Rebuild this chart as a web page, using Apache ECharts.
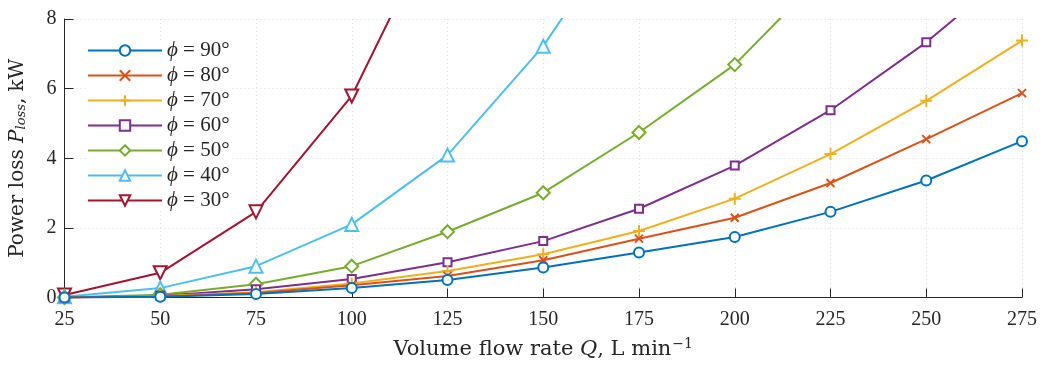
<!DOCTYPE html>
<html><head><meta charset="utf-8">
<script src="https://cdn.jsdelivr.net/npm/echarts@6/dist/echarts.min.js"></script>
<style>html,body{margin:0;padding:0;background:#fff}#c{width:1044px;height:365px}</style>
</head><body><div id="c"></div>
<script>
const categories = [25, 50, 75, 100, 125, 150, 175, 200, 225, 250, 275];
const xTicks = [25, 50, 75, 100, 125, 150, 175, 200, 225, 250, 275];
const yTicks = [0, 2, 4, 6, 8];
const phi90 = [0.0, 0.02, 0.10, 0.27, 0.50, 0.86, 1.29, 1.74, 2.46, 3.36, 4.49];
const phi80 = [0.0, 0.03, 0.13, 0.35, 0.62, 1.07, 1.69, 2.29, 3.29, 4.55, 5.87];
const phi70 = [0.0, 0.04, 0.15, 0.40, 0.76, 1.24, 1.91, 2.84, 4.12, 5.65, 7.38];
const phi60 = [0.0, 0.05, 0.24, 0.53, 1.01, 1.62, 2.55, 3.79, 5.38, 7.33, 9.62];
const phi50 = [0.0, 0.08, 0.38, 0.90, 1.89, 3.01, 4.74, 6.69, 9.49, null, null];
const phi40 = [0.02, 0.27, 0.90, 2.10, 4.09, 7.22, 11.3, null, null, null, null];
const phi30 = [0.07, 0.71, 2.46, 5.79, 11.4, null, null, null, null, null, null];
const labels = ['90°', '80°', '70°', '60°', '50°', '40°', '30°'];
const colors = ['#0072BD', '#D95319', '#EDB120', '#7E2F8E', '#77AC30', '#4DBEEE', '#A2142F'];

const FONT = 'Liberation Serif';
const TFONT = 'DejaVu Serif';
const seriesData = [phi90, phi80, phi70, phi60, phi50, phi40, phi30];
const symbols = [
  {s: 'emptyCircle', size: 10, rot: 0},
  {s: 'path://M0,0L10,10M10,0L0,10', size: 8, rot: 0},
  {s: 'path://M0,5L10,5M5,0L5,10', size: 12, rot: 0},
  {s: 'emptyRect', size: 8, rot: 0},
  {s: 'emptyDiamond', size: 13, rot: 0},
  {s: 'emptyTriangle', size: 13, rot: 0},
  {s: 'emptyTriangle', size: 13, rot: 180}
];

const series = seriesData.map((d, i) => ({
  name: 'phi' + labels[i],
  type: 'line',
  data: d.map((v, j) => [categories[j], v]),
  symbol: symbols[i].s,
  symbolSize: symbols[i].size,
  symbolRotate: symbols[i].rot,
  showAllSymbol: true,
  clip: true,
  lineStyle: {color: colors[i], width: 2},
  itemStyle: {color: colors[i], borderColor: colors[i], borderWidth: 2},
  emphasis: {disabled: true},
  z: 2 + (6 - i)
}));

const chart = echarts.init(document.getElementById('c'), null, {renderer: 'canvas'});
chart.setOption({
  animation: false,
  color: colors,
  grid: {left: 59, right: 22, top: 19, bottom: 66},
  legend: {
    left: 87, top: 40, orient: 'vertical', padding: 0,
    itemWidth: 74, itemHeight: 13, itemGap: 4,
    backgroundColor: '#fff',
    data: series.map(s => s.name),
    formatter: name => '{i|ϕ} = ' + name.replace('phi', ''),
    textStyle: {fontFamily: FONT, fontSize: 21, lineHeight: 20, color: '#262626',
      rich: {i: {fontFamily: FONT, fontStyle: 'italic', fontSize: 21, lineHeight: 20, color: '#262626'}}}
  },
  xAxis: {
    type: 'value', min: 25, max: 275, interval: 25,
    axisLine: {lineStyle: {color: '#262626', width: 1}},
    axisTick: {inside: true, length: 9, lineStyle: {color: '#262626'}},
    axisLabel: {margin: 12, fontFamily: FONT, fontSize: 20, color: '#262626',
      formatter: v => xTicks.includes(v) ? String(v) : ''},
    splitLine: {show: true, lineStyle: {color: '#dcdcdc', type: [1, 3], width: 1}},
    name: '{n|Volume flow rate }{i|Q}{n|, L min}{s|−1}',
    nameLocation: 'middle', nameGap: 40,
    nameTextStyle: {rich: {
      n: {fontFamily: TFONT, fontSize: 21, color: '#262626'},
      i: {fontFamily: TFONT, fontSize: 21, fontStyle: 'italic', color: '#262626'},
      s: {fontFamily: TFONT, fontSize: 14, color: '#262626', verticalAlign: 'top', padding: [0, 0, 10, 1]}
    }}
  },
  yAxis: {
    type: 'value', min: 0, max: 8, interval: 2,
    axisLine: {show: true, lineStyle: {color: '#262626', width: 1}},
    axisTick: {show: true, inside: true, length: 9, lineStyle: {color: '#262626'}},
    axisLabel: {margin: 8, fontFamily: FONT, fontSize: 20, color: '#262626',
      formatter: v => yTicks.includes(v) ? String(v) : ''},
    splitLine: {show: true, lineStyle: {color: '#dcdcdc', type: [1, 3], width: 1}},
    name: '{n|Power loss }{i|P}{b|loss}{n|, kW}',
    nameLocation: 'middle', nameGap: 36, nameRotate: 90,
    nameTextStyle: {rich: {
      n: {fontFamily: TFONT, fontSize: 20, color: '#262626'},
      i: {fontFamily: TFONT, fontSize: 20, fontStyle: 'italic', color: '#262626'},
      b: {fontFamily: TFONT, fontSize: 13, fontStyle: 'italic', color: '#262626', verticalAlign: 'bottom', padding: [8, 0, 0, 0]}
    }}
  },
  series: series
});
</script></body></html>
